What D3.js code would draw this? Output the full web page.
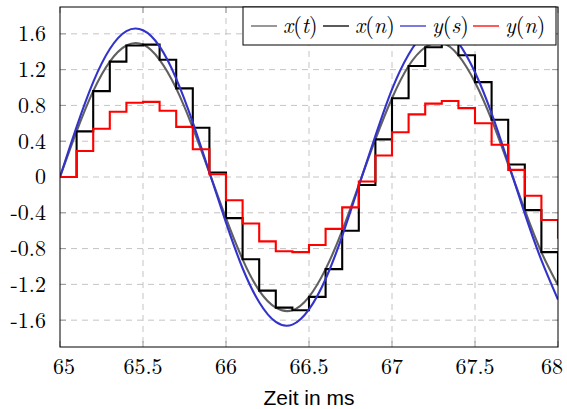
<!DOCTYPE html>
<html>
<head>
<meta charset="utf-8">
<script src="https://cdn.jsdelivr.net/npm/d3@7"></script>
<style>
  body { margin: 0; background: #fff; }
  svg { display: block; }
</style>
</head>
<body>
<div id="chart"></div>
<script>
"use strict";

// sample times (ms)
var times = [65.0, 65.1, 65.2, 65.3, 65.4, 65.5, 65.6, 65.7, 65.8, 65.9,
             66.0, 66.1, 66.2, 66.3, 66.4, 66.5, 66.6, 66.7, 66.8, 66.9,
             67.0, 67.1, 67.2, 67.3, 67.4, 67.5, 67.6, 67.7, 67.8, 67.9, 68.0];

// x(t), continuous input (read at the sample times)
var xt = [0, 0.51, 0.96, 1.29, 1.47, 1.48, 1.31, 0.99, 0.55, 0.05,
          -0.46, -0.92, -1.27, -1.46, -1.49, -1.34, -1.03, -0.60, -0.09, 0.42,
          0.88, 1.24, 1.45, 1.50, 1.36, 1.06, 0.64, 0.14, -0.37, -0.84, -1.21];

// x(n), sampled and held
var xn = [0, 0.51, 0.96, 1.29, 1.47, 1.48, 1.31, 0.99, 0.55, 0.05,
          -0.46, -0.92, -1.27, -1.46, -1.49, -1.34, -1.03, -0.60, -0.09, 0.42,
          0.88, 1.24, 1.45, 1.50, 1.36, 1.06, 0.64, 0.14, -0.37, -0.84, -1.21];

// y(s), continuous output
var ys = [0, 0.56, 1.06, 1.43, 1.63, 1.64, 1.46, 1.10, 0.61, 0.05,
          -0.51, -1.02, -1.40, -1.62, -1.65, -1.48, -1.14, -0.66, -0.10, 0.46,
          0.98, 1.37, 1.61, 1.66, 1.50, 1.17, 0.71, 0.16, -0.41, -0.93, -1.37];

// y(n), discrete output
var yn = [0, 0.29, 0.54, 0.73, 0.83, 0.84, 0.74, 0.56, 0.31, 0.03,
          -0.26, -0.52, -0.72, -0.83, -0.84, -0.76, -0.58, -0.34, -0.05, 0.24,
          0.50, 0.70, 0.82, 0.85, 0.77, 0.60, 0.36, 0.08, -0.21, -0.48, -0.69];

var xTicks = [65, 65.5, 66, 66.5, 67, 67.5, 68];
var xTickLabels = ["65", "65.5", "66", "66.5", "67", "67.5", "68"];
var yTicks = [1.6, 1.2, 0.8, 0.4, 0, -0.4, -0.8, -1.2, -1.6];
var yTickLabels = ["1.6", "1.2", "0.8", "0.4", "0", "-0.4", "-0.8", "-1.2", "-1.6"];

var seriesNames = [["x", "t"], ["x", "n"], ["y", "s"], ["y", "n"]];
var seriesColors = ["#606060", "#000000", "#3333cc", "#ff0000"];

// pick the first serif face that is really installed
function hasFont(name) {
  var ctx = document.createElement("canvas").getContext("2d");
  var probe = "mmmwwwiil1.6(x)";
  ctx.font = "40px monospace";
  var base = ctx.measureText(probe).width;
  ctx.font = "40px '" + name + "', monospace";
  return ctx.measureText(probe).width !== base;
}
var serifCandidates = ["Latin Modern Roman", "CMU Serif", "Liberation Serif", "DejaVu Serif",
                       "Noto Serif", "Tinos", "Times New Roman", "Nimbus Roman", "FreeSerif"];
var serifFace = serifCandidates.filter(hasFont)[0];
var serif = serifFace ? "'" + serifFace + "', serif" : "serif";

var W = 567, H = 409;
var margin = { top: 7, right: 9, bottom: 62, left: 60 };
var width = W - margin.left - margin.right,
    height = H - margin.top - margin.bottom;

var svg = d3.select("#chart").append("svg")
    .attr("width", W)
    .attr("height", H);

var g = svg.append("g")
    .attr("transform", "translate(" + margin.left + "," + margin.top + ")");

var x = d3.scaleLinear().domain([65, 68]).range([0, width]);
var y = d3.scaleLinear().domain([-1.9, 1.9]).range([height, 0]);

// grid
g.append("g").selectAll("line")
  .data(xTicks.slice(1, -1))
  .enter().append("line")
    .attr("x1", function(d) { return x(d); })
    .attr("x2", function(d) { return x(d); })
    .attr("y1", 0).attr("y2", height)
    .attr("stroke", "#c4c4c4")
    .attr("stroke-dasharray", "6,5");

g.append("g").selectAll("line")
  .data(yTicks)
  .enter().append("line")
    .attr("y1", function(d) { return y(d); })
    .attr("y2", function(d) { return y(d); })
    .attr("x1", 0).attr("x2", width)
    .attr("stroke", "#c4c4c4")
    .attr("stroke-dasharray", "6,5");

// tick marks (inside, all sides)
var tickLen = 6;
var ticks = g.append("g").attr("stroke", "#9a9a9a");
xTicks.forEach(function(d) {
  ticks.append("line").attr("x1", x(d)).attr("x2", x(d)).attr("y1", height).attr("y2", height - tickLen);
  ticks.append("line").attr("x1", x(d)).attr("x2", x(d)).attr("y1", 0).attr("y2", tickLen);
});
yTicks.forEach(function(d) {
  ticks.append("line").attr("y1", y(d)).attr("y2", y(d)).attr("x1", 0).attr("x2", tickLen);
  ticks.append("line").attr("y1", y(d)).attr("y2", y(d)).attr("x1", width).attr("x2", width - tickLen);
});

// curves
g.append("clipPath").attr("id", "clip")
  .append("rect").attr("width", width).attr("height", height);

var plot = g.append("g").attr("clip-path", "url(#clip)");

function makeLine(vals, curve) {
  return d3.line()
    .x(function(d, i) { return x(times[i]); })
    .y(function(d) { return y(d); })
    .curve(curve)(vals);
}

var allSeries = [
  { vals: xt, curve: d3.curveNatural },
  { vals: xn, curve: d3.curveStepAfter },
  { vals: ys, curve: d3.curveNatural },
  { vals: yn, curve: d3.curveStepAfter }
];

allSeries.forEach(function(s, i) {
  plot.append("path")
    .attr("d", makeLine(s.vals, s.curve))
    .attr("fill", "none")
    .attr("stroke", seriesColors[i])
    .attr("stroke-width", 2.1)
    .attr("stroke-linejoin", "miter");
});

// frame
g.append("rect")
  .attr("width", width).attr("height", height)
  .attr("fill", "none")
  .attr("stroke", "#000")
  .attr("stroke-width", 1);

// tick labels (first/last nudged inward as in the figure)
g.append("g").selectAll("text")
  .data(xTicks)
  .enter().append("text")
    .attr("x", function(d) { return x(d); })
    .attr("dx", function(d, i) { return i === 0 ? 4 : (i === xTicks.length - 1 ? -6 : 0); })
    .attr("y", height + 27)
    .attr("text-anchor", "middle")
    .style("font-family", serif)
    .style("font-size", "22px")
    .text(function(d, i) { return xTickLabels[i]; });

g.append("g").selectAll("text")
  .data(yTicks)
  .enter().append("text")
    .attr("x", -14)
    .attr("y", function(d) { return y(d); })
    .attr("dy", "0.34em")
    .attr("text-anchor", "end")
    .style("font-family", serif)
    .style("font-size", "22px")
    .text(function(d, i) { return yTickLabels[i]; });

// axis label
svg.append("text")
  .attr("x", margin.left + width / 2)
  .attr("y", 405)
  .attr("text-anchor", "middle")
  .style("font-family", "'Liberation Sans', Arial, sans-serif")
  .style("font-size", "21px")
  .text("Zeit in ms");

// legend
var legend = g.append("g").attr("transform", "translate(" + (243 - margin.left) + ",0)");
legend.append("rect")
  .attr("width", 313).attr("height", 38)
  .attr("fill", "#fff")
  .attr("stroke", "#000")
  .attr("stroke-width", 1);

var entryX = [8, 80, 157, 230];
seriesNames.forEach(function(n, i) {
  var e = legend.append("g").attr("transform", "translate(" + entryX[i] + ",19)");
  e.append("line")
    .attr("x1", 0).attr("x2", 26)
    .attr("stroke", seriesColors[i])
    .attr("stroke-width", 1.3);
  var t = e.append("text")
    .attr("x", 32)
    .attr("dy", "0.32em")
    .style("font-family", serif)
    .style("font-size", "22px");
  t.append("tspan").style("font-style", "italic").text(n[0]);
  t.append("tspan").text("(");
  t.append("tspan").style("font-style", "italic").text(n[1]);
  t.append("tspan").text(")");
});
</script>
</body>
</html>
